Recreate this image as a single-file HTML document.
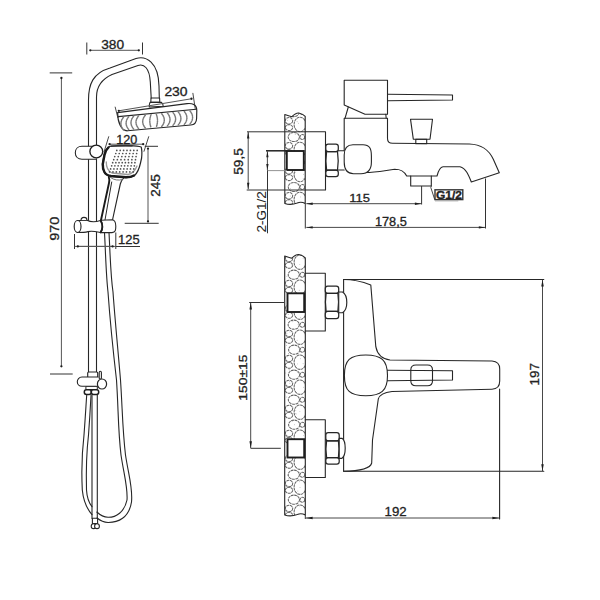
<!DOCTYPE html>
<html><head><meta charset="utf-8">
<style>
html,body{margin:0;padding:0;background:#fff;}
svg{display:block;}
text{font-family:"Liberation Sans",sans-serif;fill:#222;}
</style></head>
<body>
<svg width="600" height="600" viewBox="0 0 600 600">
<path d="M88.5,372 L88.5,100 C88.5,84 93,73 110,68 L136,58.5 C146,55.5 158.5,62 159,86 L159.3,98" fill="none" stroke="#262626" stroke-width="1.1" stroke-linejoin="round" stroke-linecap="round" />
<path d="M96.5,372 L96.5,97 C96.5,88 100,80 112,74.5 L138,65.5 C144,63.5 149.5,68 150.3,82 L151.2,98" fill="none" stroke="#262626" stroke-width="1.1" stroke-linejoin="round" stroke-linecap="round" />
<path d="M151,98 L159.6,98 L159.8,102.4 L150.8,102.4 Z" fill="none" stroke="#262626" stroke-width="1.1" stroke-linejoin="round" stroke-linecap="round" />
<path d="M150,102.4 L161.5,102.4 Q163.2,104 163.2,106.2 L149.2,107 Q149.2,104 150,102.4 Z" fill="none" stroke="#262626" stroke-width="1.1" stroke-linejoin="round" stroke-linecap="round" />
<path d="M117.6,112.6 L187,103.6 C192,103 196.8,104.5 196.8,110.5 L196.6,118.5 C196.5,122 195,124.6 190.8,125 L127.5,130.8 C121,131 117.6,122 117.6,112.6 Z" fill="none" stroke="#262626" stroke-width="1.15" stroke-linejoin="round" stroke-linecap="round" />
<path d="M118.3,116.6 L196.3,109.2" fill="none" stroke="#262626" stroke-width="1.1" stroke-linejoin="round" stroke-linecap="round" />
<path d="M123.5,117.3 Q118.3,123.6 123.5,130.0" fill="none" stroke="#7a7a7a" stroke-width="1.45" stroke-linejoin="round" stroke-linecap="round" stroke-dasharray="1.3 0.9"/>
<path d="M128.7,116.8 Q123.5,123.2 128.7,129.5" fill="none" stroke="#7a7a7a" stroke-width="1.45" stroke-linejoin="round" stroke-linecap="round" stroke-dasharray="1.3 0.9"/>
<path d="M133.6,116.3 Q128.4,122.7 133.6,129.0" fill="none" stroke="#7a7a7a" stroke-width="1.45" stroke-linejoin="round" stroke-linecap="round" stroke-dasharray="1.3 0.9"/>
<path d="M138.6,115.9 Q133.4,122.2 138.6,128.6" fill="none" stroke="#7a7a7a" stroke-width="1.45" stroke-linejoin="round" stroke-linecap="round" stroke-dasharray="1.3 0.9"/>
<path d="M145.3,115.2 Q140.1,121.6 145.3,128.0" fill="none" stroke="#7a7a7a" stroke-width="1.45" stroke-linejoin="round" stroke-linecap="round" stroke-dasharray="1.3 0.9"/>
<path d="M151.0,114.7 Q148.6,121.1 151.0,127.4" fill="none" stroke="#7a7a7a" stroke-width="1.45" stroke-linejoin="round" stroke-linecap="round" stroke-dasharray="1.3 0.9"/>
<path d="M156.3,114.2 Q158.7,120.6 156.3,127.0" fill="none" stroke="#7a7a7a" stroke-width="1.45" stroke-linejoin="round" stroke-linecap="round" stroke-dasharray="1.3 0.9"/>
<path d="M161.7,113.7 Q166.9,120.1 161.7,126.5" fill="none" stroke="#7a7a7a" stroke-width="1.45" stroke-linejoin="round" stroke-linecap="round" stroke-dasharray="1.3 0.9"/>
<path d="M167.4,113.1 Q172.6,119.5 167.4,125.9" fill="none" stroke="#7a7a7a" stroke-width="1.45" stroke-linejoin="round" stroke-linecap="round" stroke-dasharray="1.3 0.9"/>
<path d="M173.0,112.6 Q178.2,119.0 173.0,125.4" fill="none" stroke="#7a7a7a" stroke-width="1.45" stroke-linejoin="round" stroke-linecap="round" stroke-dasharray="1.3 0.9"/>
<path d="M178.3,112.1 Q183.5,118.5 178.3,124.9" fill="none" stroke="#7a7a7a" stroke-width="1.45" stroke-linejoin="round" stroke-linecap="round" stroke-dasharray="1.3 0.9"/>
<path d="M184.3,111.5 Q189.5,118.0 184.3,124.4" fill="none" stroke="#7a7a7a" stroke-width="1.45" stroke-linejoin="round" stroke-linecap="round" stroke-dasharray="1.3 0.9"/>
<path d="M190.0,111.0 Q195.2,117.4 190.0,123.9" fill="none" stroke="#7a7a7a" stroke-width="1.45" stroke-linejoin="round" stroke-linecap="round" stroke-dasharray="1.3 0.9"/>
<path d="M96.5,146.3 L82,146.3 C78,146.3 75.3,149 75.3,152.8 C75.3,156.6 78,159.3 82,159.3 L96.5,159.3"  stroke="#262626" stroke-width="1.1" stroke-linejoin="round" stroke-linecap="round" fill="#fff"/>
<circle cx="96.3" cy="151.5" r="6.4" fill="#fff" stroke="#1e1e1e" stroke-width="1.35"/>
<path d="M108.8,177 C109.5,179 109.5,181 109,183 L101,220" fill="none" stroke="#1a1a1a" stroke-width="1.9" stroke-linejoin="round" stroke-linecap="round" />
<path d="M111.7,182 L105,220" fill="none" stroke="#262626" stroke-width="1.0" stroke-linejoin="round" stroke-linecap="round" />
<path d="M124,177.5 Q121,181 120.3,184 L112.5,220" fill="none" stroke="#262626" stroke-width="1.15" stroke-linejoin="round" stroke-linecap="round" />
<path d="M110.5,177.5 Q116,181.5 122.5,179.5" fill="none" stroke="#666" stroke-width="0.9" stroke-linejoin="round" stroke-linecap="round" />
<path d="M111.6,146 L130,145.6 Q138,145.8 141.2,147 Q142.3,151 141.6,158 L140.5,163 Q138.5,172 134.5,175.5 Q131,177.6 126,177.6 L111,176.3 Q105.2,175 104,171.5 Q102.2,168.5 102.4,164 L104,155 Q105,150 108,147.6 Q109.5,146.2 111.6,146 Z"  stroke="#262626" stroke-width="1.2" stroke-linejoin="round" stroke-linecap="round" fill="#fff"/>
<path d="M108.5,147.4 Q105.5,150 104.5,155 L102.8,164 Q102.6,169 104.4,172 Q106,175.3 111,176 L126,177.3 Q131,177.3 134,175.5" fill="none" stroke="#1a1a1a" stroke-width="2.4" stroke-linejoin="round" stroke-linecap="round" />
<path d="M111,146.2 Q120,145.4 132,145.7" fill="none" stroke="#333" stroke-width="1.5" stroke-linejoin="round" stroke-linecap="round" />
<path d="M106.3,162 Q106,170 112,173 L128,174.5 Q134,173.5 137,166" fill="none" stroke="#9a9a9a" stroke-width="1.3" stroke-linejoin="round" stroke-linecap="round" />
<circle cx="116.80" cy="150.40" r="0.85" fill="#505050"/>
<circle cx="120.20" cy="150.40" r="0.85" fill="#505050"/>
<circle cx="123.60" cy="150.40" r="0.85" fill="#505050"/>
<circle cx="127.00" cy="150.40" r="0.85" fill="#505050"/>
<circle cx="130.40" cy="150.40" r="0.85" fill="#505050"/>
<circle cx="133.80" cy="150.40" r="0.85" fill="#505050"/>
<circle cx="137.20" cy="150.40" r="0.85" fill="#505050"/>
<circle cx="115.77" cy="153.48" r="0.85" fill="#505050"/>
<circle cx="119.25" cy="153.48" r="0.85" fill="#505050"/>
<circle cx="122.72" cy="153.48" r="0.85" fill="#505050"/>
<circle cx="126.20" cy="153.48" r="0.85" fill="#505050"/>
<circle cx="129.68" cy="153.48" r="0.85" fill="#505050"/>
<circle cx="133.15" cy="153.48" r="0.85" fill="#505050"/>
<circle cx="136.63" cy="153.48" r="0.85" fill="#505050"/>
<circle cx="114.74" cy="156.56" r="0.85" fill="#505050"/>
<circle cx="118.29" cy="156.56" r="0.85" fill="#505050"/>
<circle cx="121.85" cy="156.56" r="0.85" fill="#505050"/>
<circle cx="125.40" cy="156.56" r="0.85" fill="#505050"/>
<circle cx="128.95" cy="156.56" r="0.85" fill="#505050"/>
<circle cx="132.51" cy="156.56" r="0.85" fill="#505050"/>
<circle cx="136.06" cy="156.56" r="0.85" fill="#505050"/>
<circle cx="113.71" cy="159.64" r="0.85" fill="#505050"/>
<circle cx="117.34" cy="159.64" r="0.85" fill="#505050"/>
<circle cx="120.97" cy="159.64" r="0.85" fill="#505050"/>
<circle cx="124.60" cy="159.64" r="0.85" fill="#505050"/>
<circle cx="128.23" cy="159.64" r="0.85" fill="#505050"/>
<circle cx="131.86" cy="159.64" r="0.85" fill="#505050"/>
<circle cx="135.49" cy="159.64" r="0.85" fill="#505050"/>
<circle cx="112.68" cy="162.72" r="0.85" fill="#505050"/>
<circle cx="115.86" cy="162.72" r="0.85" fill="#505050"/>
<circle cx="119.03" cy="162.72" r="0.85" fill="#505050"/>
<circle cx="122.21" cy="162.72" r="0.85" fill="#505050"/>
<circle cx="125.39" cy="162.72" r="0.85" fill="#505050"/>
<circle cx="128.57" cy="162.72" r="0.85" fill="#505050"/>
<circle cx="131.74" cy="162.72" r="0.85" fill="#505050"/>
<circle cx="134.92" cy="162.72" r="0.85" fill="#505050"/>
<circle cx="111.65" cy="165.80" r="0.85" fill="#505050"/>
<circle cx="114.89" cy="165.80" r="0.85" fill="#505050"/>
<circle cx="118.14" cy="165.80" r="0.85" fill="#505050"/>
<circle cx="121.38" cy="165.80" r="0.85" fill="#505050"/>
<circle cx="124.62" cy="165.80" r="0.85" fill="#505050"/>
<circle cx="127.86" cy="165.80" r="0.85" fill="#505050"/>
<circle cx="131.11" cy="165.80" r="0.85" fill="#505050"/>
<circle cx="134.35" cy="165.80" r="0.85" fill="#505050"/>
<circle cx="110.62" cy="168.88" r="0.85" fill="#505050"/>
<circle cx="113.93" cy="168.88" r="0.85" fill="#505050"/>
<circle cx="117.24" cy="168.88" r="0.85" fill="#505050"/>
<circle cx="120.55" cy="168.88" r="0.85" fill="#505050"/>
<circle cx="123.85" cy="168.88" r="0.85" fill="#505050"/>
<circle cx="127.16" cy="168.88" r="0.85" fill="#505050"/>
<circle cx="130.47" cy="168.88" r="0.85" fill="#505050"/>
<circle cx="133.78" cy="168.88" r="0.85" fill="#505050"/>
<circle cx="109.59" cy="171.96" r="0.85" fill="#505050"/>
<circle cx="112.96" cy="171.96" r="0.85" fill="#505050"/>
<circle cx="116.34" cy="171.96" r="0.85" fill="#505050"/>
<circle cx="119.71" cy="171.96" r="0.85" fill="#505050"/>
<circle cx="123.09" cy="171.96" r="0.85" fill="#505050"/>
<circle cx="126.46" cy="171.96" r="0.85" fill="#505050"/>
<circle cx="129.84" cy="171.96" r="0.85" fill="#505050"/>
<circle cx="133.21" cy="171.96" r="0.85" fill="#505050"/>
<path d="M77.5,220.5 L81,220.5 C81,218.2 82.5,217.4 84,217.4 C85.6,217.4 87,218.2 87,220.2 C90,221.8 95,222.2 100.5,220.5 C102.6,224 102.6,229 100.5,232.5 C96,231.6 92,230.6 88,231.6 C85,232.4 82,232.5 77.5,232.5 Z"  stroke="#262626" stroke-width="1.1" stroke-linejoin="round" stroke-linecap="round" fill="#fff"/>
<path d="M81.5,220.5 L86.5,220.5" fill="none" stroke="#262626" stroke-width="0.9" stroke-linejoin="round" stroke-linecap="round" />
<ellipse cx="77.6" cy="226.5" rx="3.4" ry="6" fill="#fff" stroke="#262626" stroke-width="1.15"/>
<path d="M101,220.2 L112,219.8 C115.5,220 115.8,223 115.8,226.3 C115.8,230 115.5,232.5 112,232.6 L101,232.6 C103,229 103,224 101,220.2 Z"  stroke="#262626" stroke-width="1.1" stroke-linejoin="round" stroke-linecap="round" fill="#fff"/>
<path d="M100.6,220.5 C102.6,224 102.6,229 100.6,232.5" fill="none" stroke="#1e1e1e" stroke-width="1.7" stroke-linejoin="round" stroke-linecap="round" />
<path d="M104.5,232.6 C105.5,250 106,275 108,292 C110,320 113,350 116.5,380 C118.5,410 118,430 121,455 C124,475 128,488 127,500 C124.5,512 116,517.5 108,517.3 C103,517 99,514 96.8,512" fill="none" stroke="#262626" stroke-width="1.1" stroke-linejoin="round" stroke-linecap="round" />
<path d="M109,232.6 C110,250 110.5,275 113,292 C115,320 118,350 120.5,380 C122.5,410 122.5,430 125.5,455 C128.5,475 133,488 131.5,502 C129,518 118,522.6 108,522.5 C103,522.3 99.5,520 97,518" fill="none" stroke="#262626" stroke-width="1.1" stroke-linejoin="round" stroke-linecap="round" />
<rect x="87.7" y="372" width="10" height="5.7" rx="1" fill="#fff" stroke="#262626" stroke-width="1.15"/>
<rect x="99.2" y="371.3" width="2.2" height="7.7" rx="1.1" fill="#fff" stroke="#262626" stroke-width="1.1"/>
<path d="M86.3,386.3 L97.3,386.3 L97.3,389.5 L86.3,389.5 Z"  stroke="#262626" stroke-width="1.0" stroke-linejoin="round" stroke-linecap="round" fill="#fff"/>
<path d="M98,377 L82,377 C79,377 77.3,379.5 77.3,381.7 C77.3,384 79,386.3 82,386.3 L98,386.3"  stroke="#262626" stroke-width="1.1" stroke-linejoin="round" stroke-linecap="round" fill="#fff"/>
<ellipse cx="102" cy="384" rx="4.6" ry="5" fill="#fff" stroke="#262626" stroke-width="1.2"/>
<rect x="84.3" y="389.7" width="7" height="4.8" rx="2.2" fill="#fff" stroke="#1e1e1e" stroke-width="1.5"/>
<rect x="91.3" y="389.7" width="7.4" height="4.8" rx="2.2" fill="#fff" stroke="#1e1e1e" stroke-width="1.5"/>
<path d="M86.7,395.3 C86,405 85.5,415 84,435 C82,452 81.3,470 82.3,490 C83.5,502 88,510 92,514.7" fill="none" stroke="#262626" stroke-width="1.1" stroke-linejoin="round" stroke-linecap="round" />
<path d="M91,395.3 C90.5,405 90,415 88.5,435 C86.5,452 86,470 86.5,490 C87,498 89,503 92,506.7" fill="none" stroke="#262626" stroke-width="1.1" stroke-linejoin="round" stroke-linecap="round" />
<path d="M92,395 L92,518.5" fill="none" stroke="#262626" stroke-width="1.1" stroke-linejoin="round" stroke-linecap="round" />
<path d="M97.3,395 L97.3,518.5" fill="none" stroke="#262626" stroke-width="1.1" stroke-linejoin="round" stroke-linecap="round" />
<path d="M92.4,518.3 L97.6,518.3 L97.6,523.5 L92.4,523.5 Z" fill="none" stroke="#262626" stroke-width="1.1" stroke-linejoin="round" stroke-linecap="round" />
<circle cx="93.6" cy="526.2" r="2.4" fill="#fff" stroke="#262626" stroke-width="1.1"/>
<circle cx="97.0" cy="526.2" r="2.4" fill="#fff" stroke="#262626" stroke-width="1.1"/>
<line x1="86.8" y1="42.5" x2="86.8" y2="54.5" stroke="#333333" stroke-width="1.0" />
<line x1="142.5" y1="42.5" x2="142.5" y2="54.5" stroke="#333333" stroke-width="1.0" />
<line x1="90.3" y1="50.3" x2="138.8" y2="50.3" stroke="#555" stroke-width="1.0" />
<circle cx="90.3" cy="50.3" r="1.15" fill="#1e1e1e"/>
<circle cx="138.8" cy="50.3" r="1.15" fill="#1e1e1e"/>
<text x="101.20" y="48.70" font-size="12.57" text-anchor="start" textLength="22.90" lengthAdjust="spacingAndGlyphs" stroke="#222" stroke-width="0.3" >380</text>
<line x1="49.7" y1="72.9" x2="72.2" y2="72.9" stroke="#333333" stroke-width="1.0" />
<line x1="50" y1="374" x2="72.7" y2="374" stroke="#333333" stroke-width="1.0" />
<line x1="61.4" y1="78" x2="61.4" y2="366.3" stroke="#555" stroke-width="1.0" />
<circle cx="61.4" cy="78" r="1.15" fill="#1e1e1e"/>
<circle cx="61.4" cy="366.3" r="1.15" fill="#1e1e1e"/>
<text x="59.00" y="240.70" font-size="12.57" text-anchor="start" textLength="24.10" lengthAdjust="spacingAndGlyphs" transform="rotate(-90 59.00 240.70)" stroke="#222" stroke-width="0.3" >970</text>
<path d="M115.2,107.1 L117.8,117.5" fill="none" stroke="#333333" stroke-width="0.9" stroke-linejoin="round" stroke-linecap="round" />
<path d="M192.9,93.3 L195.2,108.5" fill="none" stroke="#333333" stroke-width="0.9" stroke-linejoin="round" stroke-linecap="round" />
<line x1="118.8" y1="110.8" x2="191.5" y2="98.75" stroke="#555" stroke-width="1.0" />
<circle cx="118.8" cy="110.8" r="1.15" fill="#1e1e1e"/>
<circle cx="191.5" cy="98.75" r="1.15" fill="#1e1e1e"/>
<text x="164.40" y="95.90" font-size="12.29" text-anchor="start" textLength="23.20" lengthAdjust="spacingAndGlyphs" stroke="#222" stroke-width="0.3" >230</text>
<path d="M108.7,136.7 L104,152" fill="none" stroke="#333333" stroke-width="0.9" stroke-linejoin="round" stroke-linecap="round" />
<path d="M148.7,136.7 L144,151.3" fill="none" stroke="#333333" stroke-width="0.9" stroke-linejoin="round" stroke-linecap="round" />
<line x1="109.6" y1="144.2" x2="143.2" y2="144.2" stroke="#555" stroke-width="1.0" />
<circle cx="109.6" cy="144.2" r="1.15" fill="#1e1e1e"/>
<circle cx="143.2" cy="144.2" r="1.15" fill="#1e1e1e"/>
<text x="116.30" y="143.75" font-size="12.22" text-anchor="start" textLength="21.10" lengthAdjust="spacingAndGlyphs" stroke="#222" stroke-width="0.3" >120</text>
<line x1="144.7" y1="146.3" x2="158" y2="146.3" stroke="#333333" stroke-width="1.0" />
<line x1="124.7" y1="223.3" x2="158.7" y2="223.3" stroke="#333333" stroke-width="1.0" />
<line x1="148" y1="148.6" x2="148" y2="221.4" stroke="#555" stroke-width="1.0" />
<circle cx="148" cy="148.6" r="1.15" fill="#1e1e1e"/>
<circle cx="148" cy="221.4" r="1.15" fill="#1e1e1e"/>
<text x="159.75" y="196.70" font-size="12.22" text-anchor="start" textLength="22.60" lengthAdjust="spacingAndGlyphs" transform="rotate(-90 159.75 196.70)" stroke="#222" stroke-width="0.3" >245</text>
<line x1="74.5" y1="234" x2="74.5" y2="249" stroke="#333333" stroke-width="1.0" />
<line x1="115.8" y1="232.5" x2="115.8" y2="249" stroke="#333333" stroke-width="1.0" />
<line x1="74.5" y1="246.4" x2="115.8" y2="246.4" stroke="#555" stroke-width="1.0" />
<line x1="77.8" y1="246.4" x2="112.6" y2="246.4" stroke="#555" stroke-width="1.0" />
<circle cx="77.8" cy="246.4" r="1.15" fill="#1e1e1e"/>
<circle cx="112.6" cy="246.4" r="1.15" fill="#1e1e1e"/>
<line x1="115.8" y1="246.5" x2="140" y2="246.5" stroke="#333333" stroke-width="1.0" />
<text x="118.05" y="243.75" font-size="12.22" text-anchor="start" textLength="21.60" lengthAdjust="spacingAndGlyphs" stroke="#222" stroke-width="0.3" >125</text>
<clipPath id="wc1"><path d="M284.8,203.5 L284.8,114.5 Q288.8,116.0 291.8,116.7 Q295.8,112.7 298.8,113.0 Q303.2,114.0 305.2,116.3 L305.2,203.5 Q301.2,201.3 297.2,203.0 Q290.8,205.5 284.8,203.5 Z"/></clipPath>
<path d="M284.8,203.5 L284.8,114.5 Q288.8,116.0 291.8,116.7 Q295.8,112.7 298.8,113.0 Q303.2,114.0 305.2,116.3 L305.2,203.5 Q301.2,201.3 297.2,203.0 Q290.8,205.5 284.8,203.5 Z" fill="#fff" stroke="none"/>
<g clip-path="url(#wc1)">
<ellipse cx="293.9" cy="87.0" rx="5.6" ry="4.6" fill="none" stroke="#666" stroke-width="1.05" stroke-dasharray="2.8 0.6"/>
<ellipse cx="300.0" cy="99.5" rx="5.9" ry="7.2" fill="none" stroke="#666" stroke-width="1.05" stroke-dasharray="2.8 0.6"/>
<ellipse cx="289.0" cy="95.8" rx="3.7" ry="3.3" fill="none" stroke="#666" stroke-width="1.05" stroke-dasharray="2.8 0.6"/>
<ellipse cx="289.0" cy="102.6" rx="3.7" ry="3.0" fill="none" stroke="#666" stroke-width="1.05" stroke-dasharray="2.8 0.6"/>
<ellipse cx="302.4" cy="87.0" rx="2.4" ry="2.5" fill="none" stroke="#666" stroke-width="1.05" stroke-dasharray="2.8 0.6"/>
<ellipse cx="293.6" cy="112.0" rx="5.6" ry="4.6" fill="none" stroke="#666" stroke-width="1.05" stroke-dasharray="2.8 0.6"/>
<ellipse cx="300.0" cy="124.5" rx="5.9" ry="7.2" fill="none" stroke="#666" stroke-width="1.05" stroke-dasharray="2.8 0.6"/>
<ellipse cx="289.0" cy="120.8" rx="3.7" ry="3.3" fill="none" stroke="#666" stroke-width="1.05" stroke-dasharray="2.8 0.6"/>
<ellipse cx="289.0" cy="127.6" rx="3.7" ry="3.0" fill="none" stroke="#666" stroke-width="1.05" stroke-dasharray="2.8 0.6"/>
<ellipse cx="302.4" cy="112.0" rx="2.4" ry="2.5" fill="none" stroke="#666" stroke-width="1.05" stroke-dasharray="2.8 0.6"/>
<ellipse cx="293.8" cy="137.0" rx="5.6" ry="4.6" fill="none" stroke="#666" stroke-width="1.05" stroke-dasharray="2.8 0.6"/>
<ellipse cx="300.0" cy="149.5" rx="5.9" ry="7.2" fill="none" stroke="#666" stroke-width="1.05" stroke-dasharray="2.8 0.6"/>
<ellipse cx="289.0" cy="145.8" rx="3.7" ry="3.3" fill="none" stroke="#666" stroke-width="1.05" stroke-dasharray="2.8 0.6"/>
<ellipse cx="289.0" cy="152.6" rx="3.7" ry="3.0" fill="none" stroke="#666" stroke-width="1.05" stroke-dasharray="2.8 0.6"/>
<ellipse cx="302.4" cy="137.0" rx="2.4" ry="2.5" fill="none" stroke="#666" stroke-width="1.05" stroke-dasharray="2.8 0.6"/>
<ellipse cx="293.7" cy="162.0" rx="5.6" ry="4.6" fill="none" stroke="#666" stroke-width="1.05" stroke-dasharray="2.8 0.6"/>
<ellipse cx="300.0" cy="174.5" rx="5.9" ry="7.2" fill="none" stroke="#666" stroke-width="1.05" stroke-dasharray="2.8 0.6"/>
<ellipse cx="289.0" cy="170.8" rx="3.7" ry="3.3" fill="none" stroke="#666" stroke-width="1.05" stroke-dasharray="2.8 0.6"/>
<ellipse cx="289.0" cy="177.6" rx="3.7" ry="3.0" fill="none" stroke="#666" stroke-width="1.05" stroke-dasharray="2.8 0.6"/>
<ellipse cx="302.4" cy="162.0" rx="2.4" ry="2.5" fill="none" stroke="#666" stroke-width="1.05" stroke-dasharray="2.8 0.6"/>
<ellipse cx="293.9" cy="187.0" rx="5.6" ry="4.6" fill="none" stroke="#666" stroke-width="1.05" stroke-dasharray="2.8 0.6"/>
<ellipse cx="300.0" cy="199.5" rx="5.9" ry="7.2" fill="none" stroke="#666" stroke-width="1.05" stroke-dasharray="2.8 0.6"/>
<ellipse cx="289.0" cy="195.8" rx="3.7" ry="3.3" fill="none" stroke="#666" stroke-width="1.05" stroke-dasharray="2.8 0.6"/>
<ellipse cx="289.0" cy="202.6" rx="3.7" ry="3.0" fill="none" stroke="#666" stroke-width="1.05" stroke-dasharray="2.8 0.6"/>
<ellipse cx="302.4" cy="187.0" rx="2.4" ry="2.5" fill="none" stroke="#666" stroke-width="1.05" stroke-dasharray="2.8 0.6"/>
<ellipse cx="294.2" cy="212.0" rx="5.6" ry="4.6" fill="none" stroke="#666" stroke-width="1.05" stroke-dasharray="2.8 0.6"/>
<ellipse cx="300.0" cy="224.5" rx="5.9" ry="7.2" fill="none" stroke="#666" stroke-width="1.05" stroke-dasharray="2.8 0.6"/>
<ellipse cx="289.0" cy="220.8" rx="3.7" ry="3.3" fill="none" stroke="#666" stroke-width="1.05" stroke-dasharray="2.8 0.6"/>
<ellipse cx="289.0" cy="227.6" rx="3.7" ry="3.0" fill="none" stroke="#666" stroke-width="1.05" stroke-dasharray="2.8 0.6"/>
<ellipse cx="302.4" cy="212.0" rx="2.4" ry="2.5" fill="none" stroke="#666" stroke-width="1.05" stroke-dasharray="2.8 0.6"/>
<circle cx="300.4" cy="196.9" r="0.45" fill="#999"/>
<circle cx="303.4" cy="174.3" r="0.45" fill="#999"/>
<circle cx="286.1" cy="162.0" r="0.45" fill="#999"/>
<circle cx="286.1" cy="131.7" r="0.45" fill="#999"/>
<circle cx="289.1" cy="167.7" r="0.45" fill="#999"/>
<circle cx="294.3" cy="174.7" r="0.45" fill="#999"/>
<circle cx="301.0" cy="190.1" r="0.45" fill="#999"/>
<circle cx="302.4" cy="131.5" r="0.45" fill="#999"/>
<circle cx="296.3" cy="170.5" r="0.45" fill="#999"/>
<circle cx="298.6" cy="123.3" r="0.45" fill="#999"/>
<circle cx="300.6" cy="166.3" r="0.45" fill="#999"/>
<circle cx="287.4" cy="157.9" r="0.45" fill="#999"/>
<circle cx="291.8" cy="172.4" r="0.45" fill="#999"/>
<circle cx="287.2" cy="168.0" r="0.45" fill="#999"/>
<circle cx="299.5" cy="138.9" r="0.45" fill="#999"/>
<circle cx="298.8" cy="138.7" r="0.45" fill="#999"/>
<circle cx="290.0" cy="149.0" r="0.45" fill="#999"/>
<circle cx="289.8" cy="134.1" r="0.45" fill="#999"/>
<circle cx="295.2" cy="134.5" r="0.45" fill="#999"/>
<circle cx="297.1" cy="121.7" r="0.45" fill="#999"/>
<circle cx="295.5" cy="172.6" r="0.45" fill="#999"/>
<circle cx="292.9" cy="152.9" r="0.45" fill="#999"/>
<circle cx="287.7" cy="150.7" r="0.45" fill="#999"/>
<circle cx="296.6" cy="151.2" r="0.45" fill="#999"/>
<circle cx="287.4" cy="120.4" r="0.45" fill="#999"/>
<circle cx="291.8" cy="171.1" r="0.45" fill="#999"/>
<circle cx="290.5" cy="188.4" r="0.45" fill="#999"/>
<circle cx="290.2" cy="196.0" r="0.45" fill="#999"/>
<circle cx="303.2" cy="178.7" r="0.45" fill="#999"/>
<circle cx="292.2" cy="201.1" r="0.45" fill="#999"/>
</g>
<path d="M284.8,203.5 L284.8,114.5 Q288.8,116.0 291.8,116.7 Q295.8,112.7 298.8,113.0 Q303.2,114.0 305.2,116.3 L305.2,203.5 Q301.2,201.3 297.2,203.0 Q290.8,205.5 284.8,203.5 Z" fill="none" stroke="#262626" stroke-width="1.1" stroke-linejoin="round" stroke-linecap="round" />
<rect x="286.8" y="151" width="17.0" height="19" fill="#fff" stroke="#1e1e1e" stroke-width="1.9"/>
<path d="M305.2,131.8 L325.5,131.8 L325.5,190 L305.2,190" fill="none" stroke="#262626" stroke-width="1.1" stroke-linejoin="round" stroke-linecap="round" />
<path d="M328.2,144.2 L335.90000000000003,144.2 Q338.3,144.2 338.3,146.6 L338.3,149.29999999999998 Q338.3,151.7 335.90000000000003,151.7 L328.2,151.7 Q325.8,151.7 325.8,149.29999999999998 L325.8,146.6 Q325.8,144.2 328.2,144.2 Z"  stroke="#262626" stroke-width="1.25" stroke-linejoin="round" stroke-linecap="round" fill="#fff"/>
<path d="M328.2,170 L335.90000000000003,170 Q338.3,170 338.3,172.4 L338.3,174.29999999999998 Q338.3,176.7 335.90000000000003,176.7 L328.2,176.7 Q325.8,176.7 325.8,174.29999999999998 L325.8,172.4 Q325.8,170 328.2,170 Z"  stroke="#262626" stroke-width="1.25" stroke-linejoin="round" stroke-linecap="round" fill="#fff"/>
<path d="M326.6,151.7 L337.5,151.7 Q338.90000000000003,160.85 337.5,170 L326.6,170 Q325.2,160.85 326.6,151.7 Z" fill="none" stroke="#262626" stroke-width="1.25" stroke-linejoin="round" stroke-linecap="round" />
<path d="M338.3,150.8 L344.2,150.8 M338.3,170 L344.2,170" fill="none" stroke="#262626" stroke-width="1.1" stroke-linejoin="round" stroke-linecap="round" />
<path d="M344.2,80.3 L387.5,80.3 L387.5,114.2 L365,114.2 L344.2,105 Z" fill="none" stroke="#262626" stroke-width="1.1" stroke-linejoin="round" stroke-linecap="round" />
<path d="M387.5,94.2 L452.5,95 L452.5,100 L387.5,100.8" fill="none" stroke="#262626" stroke-width="1.1" stroke-linejoin="round" stroke-linecap="round" />
<path d="M348.3,107 L345,118.3 M385.8,114.2 L386.2,118.3" fill="none" stroke="#262626" stroke-width="1.1" stroke-linejoin="round" stroke-linecap="round" />
<path d="M344.2,150.8 L344.2,118.3 L387.5,118.3 L387.5,138.5 Q387.5,143.3 392.5,143.3 L469.3,144 C480,144.5 488,148 493.3,159.3 L499.3,172.7 L471.3,182 C469,176 466,168 460,166.7 L443,166.7 C440,167 438.5,170 437,176 L406.7,176 C404,171 401,169.3 394.7,169.3 C385,170.5 375,172.5 365.5,172.5" fill="none" stroke="#262626" stroke-width="1.1" stroke-linejoin="round" stroke-linecap="round" />
<path d="M353,144.7 L363,144.7 C369.5,144.7 371.4,148.5 371.4,156 L371.4,162 C371.4,169.5 368,173.7 361,173.7 L353.5,173.7 C347,173.7 344.2,169.5 344.2,162 L344.2,155 C344.2,148.5 347,144.7 353,144.7 Z"  stroke="#262626" stroke-width="1.1" stroke-linejoin="round" stroke-linecap="round" fill="#fff"/>
<path d="M410.5,119.2 L432.5,119.2 L430,139.2 L413.3,139.2 Z" fill="none" stroke="#262626" stroke-width="1.1" stroke-linejoin="round" stroke-linecap="round" />
<path d="M415.8,139.2 L426.7,139.2 L426.7,143.8 L415.8,143.8 Z" fill="none" stroke="#262626" stroke-width="1.1" stroke-linejoin="round" stroke-linecap="round" />
<path d="M410.7,176 L410.7,186 L431.3,186 L431.3,176" fill="none" stroke="#262626" stroke-width="1.1" stroke-linejoin="round" stroke-linecap="round" />
<path d="M431.3,186 L430.8,187.5 L434.6,199.2" fill="none" stroke="#333333" stroke-width="0.9" stroke-linejoin="round" stroke-linecap="round" />
<rect x="435" y="189.8" width="27.8" height="9.8" fill="#fff" stroke="#333" stroke-width="1.4"/>
<text x="448.9" y="198.6" font-size="10.5" text-anchor="middle" stroke="#222" stroke-width="0.3" font-weight="bold" fill="#222" textLength="26" lengthAdjust="spacingAndGlyphs">G1/2</text>
<line x1="435" y1="200.9" x2="458.3" y2="200.9" stroke="#999" stroke-width="0.8" />
<line x1="247" y1="131.8" x2="305.2" y2="131.8" stroke="#333333" stroke-width="1.0" />
<line x1="246.7" y1="190" x2="305.2" y2="190" stroke="#333333" stroke-width="1.0" />
<line x1="248.2" y1="132" x2="248.2" y2="189.2" stroke="#333333" stroke-width="0.9" />
<path d="M248.20,189.20 L247.00,182.80 L249.40,182.80 Z" fill="#1e1e1e" stroke="none"/>
<path d="M248.20,132.00 L249.40,138.40 L247.00,138.40 Z" fill="#1e1e1e" stroke="none"/>
<text x="243.00" y="174.70" font-size="12.57" text-anchor="start" textLength="26.50" lengthAdjust="spacingAndGlyphs" transform="rotate(-90 243.00 174.70)" stroke="#222" stroke-width="0.3" >59,5</text>
<line x1="266" y1="150.8" x2="287" y2="150.8" stroke="#222" stroke-width="1.5" />
<line x1="268" y1="170.6" x2="287" y2="170.6" stroke="#888" stroke-width="0.9" />
<line x1="267.4" y1="151.3" x2="267.4" y2="170" stroke="#333333" stroke-width="0.9" />
<path d="M267.40,170.00 L266.25,164.00 L268.55,164.00 Z" fill="#1e1e1e" stroke="none"/>
<path d="M267.40,151.30 L268.55,157.30 L266.25,157.30 Z" fill="#1e1e1e" stroke="none"/>
<line x1="267.5" y1="170.2" x2="267.5" y2="233.3" stroke="#333333" stroke-width="1.0" />
<text x="265.90" y="232.60" font-size="12.15" text-anchor="start" textLength="41.40" lengthAdjust="spacingAndGlyphs" transform="rotate(-90 265.90 232.60)" stroke="#222" stroke-width="0.05" >2-G1/2</text>
<line x1="421.6" y1="186" x2="421.6" y2="204.5" stroke="#333333" stroke-width="1.0" />
<line x1="306.3" y1="203.7" x2="421.3" y2="203.7" stroke="#333333" stroke-width="0.9" />
<path d="M421.30,203.70 L414.90,204.90 L414.90,202.50 Z" fill="#1e1e1e" stroke="none"/>
<path d="M306.30,203.70 L312.70,202.50 L312.70,204.90 Z" fill="#1e1e1e" stroke="none"/>
<text x="349.30" y="201.70" font-size="11.45" text-anchor="start" textLength="20.70" lengthAdjust="spacingAndGlyphs" stroke="#222" stroke-width="0.3" >115</text>
<line x1="305.3" y1="203.5" x2="305.3" y2="228.5" stroke="#333333" stroke-width="1.0" />
<line x1="485.5" y1="178.5" x2="485.5" y2="228.5" stroke="#333333" stroke-width="1.0" />
<line x1="306.3" y1="227.4" x2="485.2" y2="227.4" stroke="#333333" stroke-width="0.9" />
<path d="M485.20,227.40 L478.80,228.60 L478.80,226.20 Z" fill="#1e1e1e" stroke="none"/>
<path d="M306.30,227.40 L312.70,226.20 L312.70,228.60 Z" fill="#1e1e1e" stroke="none"/>
<text x="374.90" y="225.60" font-size="12.15" text-anchor="start" textLength="32.00" lengthAdjust="spacingAndGlyphs" stroke="#222" stroke-width="0.3" >178,5</text>
<clipPath id="wc2"><path d="M284.7,515 L284.7,256 Q288.7,257.5 291.7,258.2 Q295.7,254.2 298.7,254.5 Q303.3,255.5 305.3,257.8 L305.3,515 Q301.3,512.8 297.3,514.5 Q290.7,517 284.7,515 Z"/></clipPath>
<path d="M284.7,515 L284.7,256 Q288.7,257.5 291.7,258.2 Q295.7,254.2 298.7,254.5 Q303.3,255.5 305.3,257.8 L305.3,515 Q301.3,512.8 297.3,514.5 Q290.7,517 284.7,515 Z" fill="#fff" stroke="none"/>
<g clip-path="url(#wc2)">
<ellipse cx="293.5" cy="224.7" rx="5.6" ry="4.6" fill="none" stroke="#666" stroke-width="1.05" stroke-dasharray="2.8 0.6"/>
<ellipse cx="300.0" cy="237.2" rx="5.9" ry="7.2" fill="none" stroke="#666" stroke-width="1.05" stroke-dasharray="2.8 0.6"/>
<ellipse cx="289.0" cy="233.5" rx="3.7" ry="3.3" fill="none" stroke="#666" stroke-width="1.05" stroke-dasharray="2.8 0.6"/>
<ellipse cx="289.0" cy="240.3" rx="3.7" ry="3.0" fill="none" stroke="#666" stroke-width="1.05" stroke-dasharray="2.8 0.6"/>
<ellipse cx="302.4" cy="224.7" rx="2.4" ry="2.5" fill="none" stroke="#666" stroke-width="1.05" stroke-dasharray="2.8 0.6"/>
<ellipse cx="293.5" cy="249.7" rx="5.6" ry="4.6" fill="none" stroke="#666" stroke-width="1.05" stroke-dasharray="2.8 0.6"/>
<ellipse cx="300.0" cy="262.2" rx="5.9" ry="7.2" fill="none" stroke="#666" stroke-width="1.05" stroke-dasharray="2.8 0.6"/>
<ellipse cx="289.0" cy="258.5" rx="3.7" ry="3.3" fill="none" stroke="#666" stroke-width="1.05" stroke-dasharray="2.8 0.6"/>
<ellipse cx="289.0" cy="265.3" rx="3.7" ry="3.0" fill="none" stroke="#666" stroke-width="1.05" stroke-dasharray="2.8 0.6"/>
<ellipse cx="302.4" cy="249.7" rx="2.4" ry="2.5" fill="none" stroke="#666" stroke-width="1.05" stroke-dasharray="2.8 0.6"/>
<ellipse cx="293.8" cy="274.7" rx="5.6" ry="4.6" fill="none" stroke="#666" stroke-width="1.05" stroke-dasharray="2.8 0.6"/>
<ellipse cx="300.0" cy="287.2" rx="5.9" ry="7.2" fill="none" stroke="#666" stroke-width="1.05" stroke-dasharray="2.8 0.6"/>
<ellipse cx="289.0" cy="283.5" rx="3.7" ry="3.3" fill="none" stroke="#666" stroke-width="1.05" stroke-dasharray="2.8 0.6"/>
<ellipse cx="289.0" cy="290.3" rx="3.7" ry="3.0" fill="none" stroke="#666" stroke-width="1.05" stroke-dasharray="2.8 0.6"/>
<ellipse cx="302.4" cy="274.7" rx="2.4" ry="2.5" fill="none" stroke="#666" stroke-width="1.05" stroke-dasharray="2.8 0.6"/>
<ellipse cx="294.1" cy="299.7" rx="5.6" ry="4.6" fill="none" stroke="#666" stroke-width="1.05" stroke-dasharray="2.8 0.6"/>
<ellipse cx="300.0" cy="312.2" rx="5.9" ry="7.2" fill="none" stroke="#666" stroke-width="1.05" stroke-dasharray="2.8 0.6"/>
<ellipse cx="289.0" cy="308.5" rx="3.7" ry="3.3" fill="none" stroke="#666" stroke-width="1.05" stroke-dasharray="2.8 0.6"/>
<ellipse cx="289.0" cy="315.3" rx="3.7" ry="3.0" fill="none" stroke="#666" stroke-width="1.05" stroke-dasharray="2.8 0.6"/>
<ellipse cx="302.4" cy="299.7" rx="2.4" ry="2.5" fill="none" stroke="#666" stroke-width="1.05" stroke-dasharray="2.8 0.6"/>
<ellipse cx="293.7" cy="324.7" rx="5.6" ry="4.6" fill="none" stroke="#666" stroke-width="1.05" stroke-dasharray="2.8 0.6"/>
<ellipse cx="300.0" cy="337.2" rx="5.9" ry="7.2" fill="none" stroke="#666" stroke-width="1.05" stroke-dasharray="2.8 0.6"/>
<ellipse cx="289.0" cy="333.5" rx="3.7" ry="3.3" fill="none" stroke="#666" stroke-width="1.05" stroke-dasharray="2.8 0.6"/>
<ellipse cx="289.0" cy="340.3" rx="3.7" ry="3.0" fill="none" stroke="#666" stroke-width="1.05" stroke-dasharray="2.8 0.6"/>
<ellipse cx="302.4" cy="324.7" rx="2.4" ry="2.5" fill="none" stroke="#666" stroke-width="1.05" stroke-dasharray="2.8 0.6"/>
<ellipse cx="294.2" cy="349.7" rx="5.6" ry="4.6" fill="none" stroke="#666" stroke-width="1.05" stroke-dasharray="2.8 0.6"/>
<ellipse cx="300.0" cy="362.2" rx="5.9" ry="7.2" fill="none" stroke="#666" stroke-width="1.05" stroke-dasharray="2.8 0.6"/>
<ellipse cx="289.0" cy="358.5" rx="3.7" ry="3.3" fill="none" stroke="#666" stroke-width="1.05" stroke-dasharray="2.8 0.6"/>
<ellipse cx="289.0" cy="365.3" rx="3.7" ry="3.0" fill="none" stroke="#666" stroke-width="1.05" stroke-dasharray="2.8 0.6"/>
<ellipse cx="302.4" cy="349.7" rx="2.4" ry="2.5" fill="none" stroke="#666" stroke-width="1.05" stroke-dasharray="2.8 0.6"/>
<ellipse cx="294.0" cy="374.7" rx="5.6" ry="4.6" fill="none" stroke="#666" stroke-width="1.05" stroke-dasharray="2.8 0.6"/>
<ellipse cx="300.0" cy="387.2" rx="5.9" ry="7.2" fill="none" stroke="#666" stroke-width="1.05" stroke-dasharray="2.8 0.6"/>
<ellipse cx="289.0" cy="383.5" rx="3.7" ry="3.3" fill="none" stroke="#666" stroke-width="1.05" stroke-dasharray="2.8 0.6"/>
<ellipse cx="289.0" cy="390.3" rx="3.7" ry="3.0" fill="none" stroke="#666" stroke-width="1.05" stroke-dasharray="2.8 0.6"/>
<ellipse cx="302.4" cy="374.7" rx="2.4" ry="2.5" fill="none" stroke="#666" stroke-width="1.05" stroke-dasharray="2.8 0.6"/>
<ellipse cx="293.9" cy="399.7" rx="5.6" ry="4.6" fill="none" stroke="#666" stroke-width="1.05" stroke-dasharray="2.8 0.6"/>
<ellipse cx="300.0" cy="412.2" rx="5.9" ry="7.2" fill="none" stroke="#666" stroke-width="1.05" stroke-dasharray="2.8 0.6"/>
<ellipse cx="289.0" cy="408.5" rx="3.7" ry="3.3" fill="none" stroke="#666" stroke-width="1.05" stroke-dasharray="2.8 0.6"/>
<ellipse cx="289.0" cy="415.3" rx="3.7" ry="3.0" fill="none" stroke="#666" stroke-width="1.05" stroke-dasharray="2.8 0.6"/>
<ellipse cx="302.4" cy="399.7" rx="2.4" ry="2.5" fill="none" stroke="#666" stroke-width="1.05" stroke-dasharray="2.8 0.6"/>
<ellipse cx="294.2" cy="424.7" rx="5.6" ry="4.6" fill="none" stroke="#666" stroke-width="1.05" stroke-dasharray="2.8 0.6"/>
<ellipse cx="300.0" cy="437.2" rx="5.9" ry="7.2" fill="none" stroke="#666" stroke-width="1.05" stroke-dasharray="2.8 0.6"/>
<ellipse cx="289.0" cy="433.5" rx="3.7" ry="3.3" fill="none" stroke="#666" stroke-width="1.05" stroke-dasharray="2.8 0.6"/>
<ellipse cx="289.0" cy="440.3" rx="3.7" ry="3.0" fill="none" stroke="#666" stroke-width="1.05" stroke-dasharray="2.8 0.6"/>
<ellipse cx="302.4" cy="424.7" rx="2.4" ry="2.5" fill="none" stroke="#666" stroke-width="1.05" stroke-dasharray="2.8 0.6"/>
<ellipse cx="293.7" cy="449.7" rx="5.6" ry="4.6" fill="none" stroke="#666" stroke-width="1.05" stroke-dasharray="2.8 0.6"/>
<ellipse cx="300.0" cy="462.2" rx="5.9" ry="7.2" fill="none" stroke="#666" stroke-width="1.05" stroke-dasharray="2.8 0.6"/>
<ellipse cx="289.0" cy="458.5" rx="3.7" ry="3.3" fill="none" stroke="#666" stroke-width="1.05" stroke-dasharray="2.8 0.6"/>
<ellipse cx="289.0" cy="465.3" rx="3.7" ry="3.0" fill="none" stroke="#666" stroke-width="1.05" stroke-dasharray="2.8 0.6"/>
<ellipse cx="302.4" cy="449.7" rx="2.4" ry="2.5" fill="none" stroke="#666" stroke-width="1.05" stroke-dasharray="2.8 0.6"/>
<ellipse cx="293.8" cy="474.7" rx="5.6" ry="4.6" fill="none" stroke="#666" stroke-width="1.05" stroke-dasharray="2.8 0.6"/>
<ellipse cx="300.0" cy="487.2" rx="5.9" ry="7.2" fill="none" stroke="#666" stroke-width="1.05" stroke-dasharray="2.8 0.6"/>
<ellipse cx="289.0" cy="483.5" rx="3.7" ry="3.3" fill="none" stroke="#666" stroke-width="1.05" stroke-dasharray="2.8 0.6"/>
<ellipse cx="289.0" cy="490.3" rx="3.7" ry="3.0" fill="none" stroke="#666" stroke-width="1.05" stroke-dasharray="2.8 0.6"/>
<ellipse cx="302.4" cy="474.7" rx="2.4" ry="2.5" fill="none" stroke="#666" stroke-width="1.05" stroke-dasharray="2.8 0.6"/>
<ellipse cx="293.9" cy="499.7" rx="5.6" ry="4.6" fill="none" stroke="#666" stroke-width="1.05" stroke-dasharray="2.8 0.6"/>
<ellipse cx="300.0" cy="512.2" rx="5.9" ry="7.2" fill="none" stroke="#666" stroke-width="1.05" stroke-dasharray="2.8 0.6"/>
<ellipse cx="289.0" cy="508.5" rx="3.7" ry="3.3" fill="none" stroke="#666" stroke-width="1.05" stroke-dasharray="2.8 0.6"/>
<ellipse cx="289.0" cy="515.3" rx="3.7" ry="3.0" fill="none" stroke="#666" stroke-width="1.05" stroke-dasharray="2.8 0.6"/>
<ellipse cx="302.4" cy="499.7" rx="2.4" ry="2.5" fill="none" stroke="#666" stroke-width="1.05" stroke-dasharray="2.8 0.6"/>
<ellipse cx="293.8" cy="524.7" rx="5.6" ry="4.6" fill="none" stroke="#666" stroke-width="1.05" stroke-dasharray="2.8 0.6"/>
<ellipse cx="300.0" cy="537.2" rx="5.9" ry="7.2" fill="none" stroke="#666" stroke-width="1.05" stroke-dasharray="2.8 0.6"/>
<ellipse cx="289.0" cy="533.5" rx="3.7" ry="3.3" fill="none" stroke="#666" stroke-width="1.05" stroke-dasharray="2.8 0.6"/>
<ellipse cx="289.0" cy="540.3" rx="3.7" ry="3.0" fill="none" stroke="#666" stroke-width="1.05" stroke-dasharray="2.8 0.6"/>
<ellipse cx="302.4" cy="524.7" rx="2.4" ry="2.5" fill="none" stroke="#666" stroke-width="1.05" stroke-dasharray="2.8 0.6"/>
<circle cx="303.5" cy="481.4" r="0.45" fill="#999"/>
<circle cx="289.4" cy="381.7" r="0.45" fill="#999"/>
<circle cx="294.0" cy="257.0" r="0.45" fill="#999"/>
<circle cx="291.2" cy="278.9" r="0.45" fill="#999"/>
<circle cx="303.8" cy="326.3" r="0.45" fill="#999"/>
<circle cx="291.8" cy="478.9" r="0.45" fill="#999"/>
<circle cx="287.6" cy="361.4" r="0.45" fill="#999"/>
<circle cx="292.9" cy="406.9" r="0.45" fill="#999"/>
<circle cx="290.6" cy="403.1" r="0.45" fill="#999"/>
<circle cx="290.6" cy="404.7" r="0.45" fill="#999"/>
<circle cx="288.3" cy="478.6" r="0.45" fill="#999"/>
<circle cx="299.2" cy="290.2" r="0.45" fill="#999"/>
<circle cx="299.8" cy="472.6" r="0.45" fill="#999"/>
<circle cx="296.7" cy="413.9" r="0.45" fill="#999"/>
<circle cx="288.7" cy="343.1" r="0.45" fill="#999"/>
<circle cx="298.3" cy="275.5" r="0.45" fill="#999"/>
<circle cx="300.5" cy="358.7" r="0.45" fill="#999"/>
<circle cx="293.1" cy="429.2" r="0.45" fill="#999"/>
<circle cx="295.8" cy="365.7" r="0.45" fill="#999"/>
<circle cx="288.3" cy="314.5" r="0.45" fill="#999"/>
<circle cx="290.1" cy="455.2" r="0.45" fill="#999"/>
<circle cx="303.9" cy="275.8" r="0.45" fill="#999"/>
<circle cx="293.2" cy="328.5" r="0.45" fill="#999"/>
<circle cx="303.1" cy="258.8" r="0.45" fill="#999"/>
<circle cx="303.6" cy="387.2" r="0.45" fill="#999"/>
<circle cx="292.9" cy="321.8" r="0.45" fill="#999"/>
<circle cx="302.7" cy="393.8" r="0.45" fill="#999"/>
<circle cx="290.8" cy="440.1" r="0.45" fill="#999"/>
<circle cx="297.5" cy="496.0" r="0.45" fill="#999"/>
<circle cx="299.4" cy="310.5" r="0.45" fill="#999"/>
<circle cx="289.9" cy="332.0" r="0.45" fill="#999"/>
<circle cx="286.8" cy="314.6" r="0.45" fill="#999"/>
<circle cx="286.7" cy="310.8" r="0.45" fill="#999"/>
<circle cx="299.3" cy="481.8" r="0.45" fill="#999"/>
<circle cx="286.6" cy="345.2" r="0.45" fill="#999"/>
<circle cx="299.5" cy="505.9" r="0.45" fill="#999"/>
<circle cx="299.8" cy="264.4" r="0.45" fill="#999"/>
<circle cx="285.8" cy="373.0" r="0.45" fill="#999"/>
<circle cx="299.3" cy="350.9" r="0.45" fill="#999"/>
<circle cx="297.6" cy="396.4" r="0.45" fill="#999"/>
<circle cx="297.9" cy="491.0" r="0.45" fill="#999"/>
<circle cx="300.1" cy="399.9" r="0.45" fill="#999"/>
<circle cx="288.4" cy="486.3" r="0.45" fill="#999"/>
<circle cx="288.7" cy="353.4" r="0.45" fill="#999"/>
<circle cx="290.8" cy="461.2" r="0.45" fill="#999"/>
<circle cx="295.4" cy="382.9" r="0.45" fill="#999"/>
<circle cx="288.6" cy="353.6" r="0.45" fill="#999"/>
<circle cx="288.8" cy="467.6" r="0.45" fill="#999"/>
<circle cx="298.5" cy="345.4" r="0.45" fill="#999"/>
<circle cx="287.8" cy="356.7" r="0.45" fill="#999"/>
<circle cx="300.0" cy="487.5" r="0.45" fill="#999"/>
<circle cx="299.9" cy="411.6" r="0.45" fill="#999"/>
<circle cx="303.4" cy="435.6" r="0.45" fill="#999"/>
<circle cx="286.9" cy="276.2" r="0.45" fill="#999"/>
<circle cx="298.3" cy="493.4" r="0.45" fill="#999"/>
<circle cx="291.4" cy="264.9" r="0.45" fill="#999"/>
<circle cx="297.7" cy="502.1" r="0.45" fill="#999"/>
<circle cx="298.1" cy="324.2" r="0.45" fill="#999"/>
<circle cx="294.8" cy="262.1" r="0.45" fill="#999"/>
<circle cx="287.3" cy="387.5" r="0.45" fill="#999"/>
<circle cx="297.4" cy="372.2" r="0.45" fill="#999"/>
<circle cx="286.9" cy="333.3" r="0.45" fill="#999"/>
<circle cx="294.2" cy="286.5" r="0.45" fill="#999"/>
<circle cx="286.8" cy="397.0" r="0.45" fill="#999"/>
<circle cx="290.3" cy="452.6" r="0.45" fill="#999"/>
<circle cx="297.8" cy="441.9" r="0.45" fill="#999"/>
<circle cx="291.3" cy="381.9" r="0.45" fill="#999"/>
<circle cx="294.9" cy="292.7" r="0.45" fill="#999"/>
<circle cx="304.1" cy="382.9" r="0.45" fill="#999"/>
<circle cx="295.4" cy="413.8" r="0.45" fill="#999"/>
<circle cx="289.5" cy="370.0" r="0.45" fill="#999"/>
<circle cx="297.5" cy="494.0" r="0.45" fill="#999"/>
<circle cx="303.3" cy="307.9" r="0.45" fill="#999"/>
<circle cx="289.9" cy="383.5" r="0.45" fill="#999"/>
<circle cx="289.0" cy="369.3" r="0.45" fill="#999"/>
<circle cx="300.6" cy="276.2" r="0.45" fill="#999"/>
<circle cx="303.1" cy="363.8" r="0.45" fill="#999"/>
<circle cx="294.4" cy="424.7" r="0.45" fill="#999"/>
<circle cx="300.5" cy="317.3" r="0.45" fill="#999"/>
<circle cx="295.8" cy="410.2" r="0.45" fill="#999"/>
<circle cx="297.7" cy="363.9" r="0.45" fill="#999"/>
<circle cx="301.6" cy="280.6" r="0.45" fill="#999"/>
<circle cx="297.1" cy="308.4" r="0.45" fill="#999"/>
<circle cx="292.5" cy="421.0" r="0.45" fill="#999"/>
<circle cx="297.1" cy="340.3" r="0.45" fill="#999"/>
<circle cx="287.6" cy="319.6" r="0.45" fill="#999"/>
<circle cx="303.9" cy="372.9" r="0.45" fill="#999"/>
<circle cx="287.9" cy="475.3" r="0.45" fill="#999"/>
</g>
<path d="M284.7,515 L284.7,256 Q288.7,257.5 291.7,258.2 Q295.7,254.2 298.7,254.5 Q303.3,255.5 305.3,257.8 L305.3,515 Q301.3,512.8 297.3,514.5 Q290.7,517 284.7,515 Z" fill="none" stroke="#262626" stroke-width="1.1" stroke-linejoin="round" stroke-linecap="round" />
<rect x="287.5" y="293.3" width="16.69999999999999" height="18.69999999999999" fill="#fff" stroke="#1e1e1e" stroke-width="1.9"/>
<rect x="287.5" y="439.2" width="16.69999999999999" height="18.30000000000001" fill="#fff" stroke="#1e1e1e" stroke-width="1.9"/>
<path d="M305.3,273.3 L325.3,273.3 L325.3,331 L305.3,331" fill="none" stroke="#262626" stroke-width="1.1" stroke-linejoin="round" stroke-linecap="round" />
<path d="M305.3,419.7 L325.3,419.7 L325.3,477.5 L305.3,477.5" fill="none" stroke="#262626" stroke-width="1.1" stroke-linejoin="round" stroke-linecap="round" />
<path d="M327.7,286 L336.3,286 Q338.7,286 338.7,288.4 L338.7,290.90000000000003 Q338.7,293.3 336.3,293.3 L327.7,293.3 Q325.3,293.3 325.3,290.90000000000003 L325.3,288.4 Q325.3,286 327.7,286 Z"  stroke="#262626" stroke-width="1.25" stroke-linejoin="round" stroke-linecap="round" fill="#fff"/>
<path d="M327.7,311.3 L336.3,311.3 Q338.7,311.3 338.7,313.7 L338.7,316.3 Q338.7,318.7 336.3,318.7 L327.7,318.7 Q325.3,318.7 325.3,316.3 L325.3,313.7 Q325.3,311.3 327.7,311.3 Z"  stroke="#262626" stroke-width="1.25" stroke-linejoin="round" stroke-linecap="round" fill="#fff"/>
<path d="M326.1,293.3 L337.9,293.3 Q339.3,302.3 337.9,311.3 L326.1,311.3 Q324.7,302.3 326.1,293.3 Z" fill="none" stroke="#262626" stroke-width="1.25" stroke-linejoin="round" stroke-linecap="round" />
<path d="M328.2,432.5 L336.8,432.5 Q339.2,432.5 339.2,434.9 L339.2,438.40000000000003 Q339.2,440.8 336.8,440.8 L328.2,440.8 Q325.8,440.8 325.8,438.40000000000003 L325.8,434.9 Q325.8,432.5 328.2,432.5 Z"  stroke="#262626" stroke-width="1.25" stroke-linejoin="round" stroke-linecap="round" fill="#fff"/>
<path d="M328.2,457.5 L336.8,457.5 Q339.2,457.5 339.2,459.9 L339.2,461.8 Q339.2,464.2 336.8,464.2 L328.2,464.2 Q325.8,464.2 325.8,461.8 L325.8,459.9 Q325.8,457.5 328.2,457.5 Z"  stroke="#262626" stroke-width="1.25" stroke-linejoin="round" stroke-linecap="round" fill="#fff"/>
<path d="M326.6,440.8 L338.4,440.8 Q339.8,449.15 338.4,457.5 L326.6,457.5 Q325.2,449.15 326.6,440.8 Z" fill="none" stroke="#262626" stroke-width="1.25" stroke-linejoin="round" stroke-linecap="round" />
<path d="M343.6,279.5 L543.8,279.5" fill="none" stroke="#262626" stroke-width="1.1" stroke-linejoin="round" stroke-linecap="round" />
<path d="M343.6,279.5 L343.6,471.3 L543.8,471.3" fill="none" stroke="#262626" stroke-width="1.1" stroke-linejoin="round" stroke-linecap="round" />
<path d="M499.6,389 L499.6,519" fill="none" stroke="#262626" stroke-width="1.1" stroke-linejoin="round" stroke-linecap="round" />
<path d="M338.7,292 L342.5,292 C346,294 346.8,299 346.8,302.5 C346.8,306 346,310.5 342.5,312.7 L338.7,312.7 Z"  stroke="#262626" stroke-width="1.15" stroke-linejoin="round" stroke-linecap="round" fill="#fff"/>
<path d="M339.2,438.3 L342,438.3 C344.6,440 345.2,444 345.2,448.3 C345.2,452.5 344.6,456.5 342,458.3 L339.2,458.3 Z"  stroke="#262626" stroke-width="1.15" stroke-linejoin="round" stroke-linecap="round" fill="#fff"/>
<path d="M343.6,279.5 C352,279.5 362,281.5 370.8,285 L375.8,346.7 C377,353 381,359 390,360 L492,361 Q499.7,361.5 499.7,369 L499.7,381 Q499.7,389 492,389.2 L392,391.5 C384,392.5 379.5,394.5 378.3,399 L372.5,440 L371.7,463 C370.5,468 362,471 343.6,471.3" fill="none" stroke="#262626" stroke-width="1.1" stroke-linejoin="round" stroke-linecap="round" />
<path d="M365.8,355 C381,355 387.5,360 387.5,375.4 C387.5,391 381,395.8 365.8,395.8 C350,395.8 344.4,391 344.4,375.4 C344.4,360 350,355 365.8,355 Z" fill="none" stroke="#262626" stroke-width="1.1" stroke-linejoin="round" stroke-linecap="round" />
<path d="M416,365 L427.5,365 Q432.5,365 432.5,370 L432.5,380.8 Q432.5,385.8 427.5,385.8 L416,385.8 Q410.8,385.8 410.8,380.8 L410.8,370 Q410.8,365 416,365 Z" fill="none" stroke="#262626" stroke-width="1.1" stroke-linejoin="round" stroke-linecap="round" />
<path d="M387.5,370.2 L452.5,370.8 L452.5,380 L387.5,380.8" fill="none" stroke="#262626" stroke-width="1.1" stroke-linejoin="round" stroke-linecap="round" />
<line x1="249.2" y1="302.5" x2="284" y2="302.5" stroke="#333333" stroke-width="1.0" />
<line x1="250.5" y1="448.3" x2="280.8" y2="448.3" stroke="#333333" stroke-width="1.0" />
<line x1="250.7" y1="302.6" x2="250.7" y2="448" stroke="#333333" stroke-width="0.9" />
<path d="M250.70,448.00 L249.45,441.20 L251.95,441.20 Z" fill="#1e1e1e" stroke="none"/>
<path d="M250.70,302.60 L251.95,309.40 L249.45,309.40 Z" fill="#1e1e1e" stroke="none"/>
<text x="246.70" y="400.70" font-size="11.59" text-anchor="start" textLength="46.10" lengthAdjust="spacingAndGlyphs" transform="rotate(-90 246.70 400.70)" stroke="#222" stroke-width="0.3" >150±15</text>
<line x1="542.5" y1="279.8" x2="542.5" y2="471" stroke="#333333" stroke-width="0.9" />
<path d="M542.50,471.00 L541.25,464.20 L543.75,464.20 Z" fill="#1e1e1e" stroke="none"/>
<path d="M542.50,279.80 L543.75,286.60 L541.25,286.60 Z" fill="#1e1e1e" stroke="none"/>
<text x="538.90" y="385.40" font-size="12.57" text-anchor="start" textLength="22.40" lengthAdjust="spacingAndGlyphs" transform="rotate(-90 538.90 385.40)" stroke="#222" stroke-width="0.3" >197</text>
<line x1="305.3" y1="515" x2="305.3" y2="519" stroke="#333333" stroke-width="1.0" />
<line x1="305.8" y1="518" x2="499.2" y2="518" stroke="#333333" stroke-width="0.9" />
<path d="M499.20,518.00 L492.40,519.25 L492.40,516.75 Z" fill="#1e1e1e" stroke="none"/>
<path d="M305.80,518.00 L312.60,516.75 L312.60,519.25 Z" fill="#1e1e1e" stroke="none"/>
<text x="384.60" y="515.80" font-size="12.71" text-anchor="start" textLength="22.10" lengthAdjust="spacingAndGlyphs" stroke="#222" stroke-width="0.3" >192</text>
</svg>
</body></html>
